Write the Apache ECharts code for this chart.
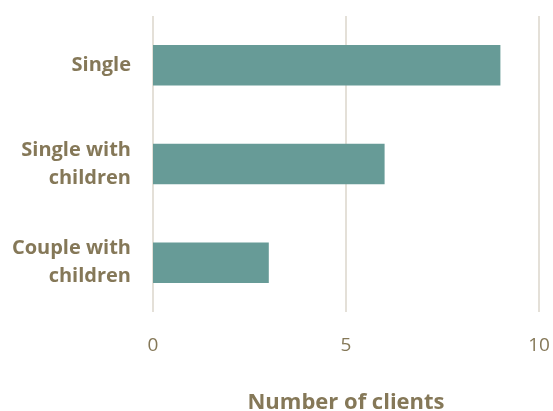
<!DOCTYPE html>
<html>
<head>
<meta charset="utf-8">
<script src="https://cdn.jsdelivr.net/npm/echarts@6/dist/echarts.min.js"></script>
<style>
  html, body { margin: 0; padding: 0; background: #ffffff; }
  #chart { width: 553px; height: 411px; }
</style>
</head>
<body>
<div id="chart"></div>
<script>
// Household types, listed top to bottom
const categories = ['Single', 'Single with\nchildren', 'Couple with\nchildren'];
// Number of clients per household type
const clients = [9, 6, 3];
// Value axis ticks
const axisMin = 0;
const axisMax = 10;
const axisStep = 5;

const textColor = '#857858';
const fontFamily = '"Open Sans", Lato, sans-serif';

const chart = echarts.init(document.getElementById('chart'));
chart.setOption({
  animation: false,
  grid: { left: 153, right: 14, top: 16, bottom: 99, outerBoundsMode: 'none' },
  xAxis: {
    type: 'value',
    min: axisMin,
    max: axisMax,
    interval: axisStep,
    name: 'Number of clients',
    nameLocation: 'middle',
    nameGap: 80,
    nameTextStyle: { color: textColor, fontSize: 22, fontWeight: 'bold', fontFamily },
    axisLine: { show: false },
    axisTick: { show: false },
    axisLabel: { color: textColor, fontSize: 19, fontFamily, margin: 24 },
    splitLine: { show: true, lineStyle: { color: '#E4E0D8', width: 2 } }
  },
  yAxis: {
    type: 'category',
    inverse: true,
    data: categories,
    axisLine: { show: false },
    axisTick: { show: false },
    axisLabel: {
      color: textColor, fontSize: 20, fontWeight: 'bold', fontFamily,
      margin: 22, lineHeight: 28, align: 'right',
      padding: [9, 0, 0, 0]
    }
  },
  series: [{
    type: 'bar',
    data: clients,
    barWidth: '41%',
    itemStyle: { color: '#679B97' }
  }]
});
</script>
</body>
</html>
